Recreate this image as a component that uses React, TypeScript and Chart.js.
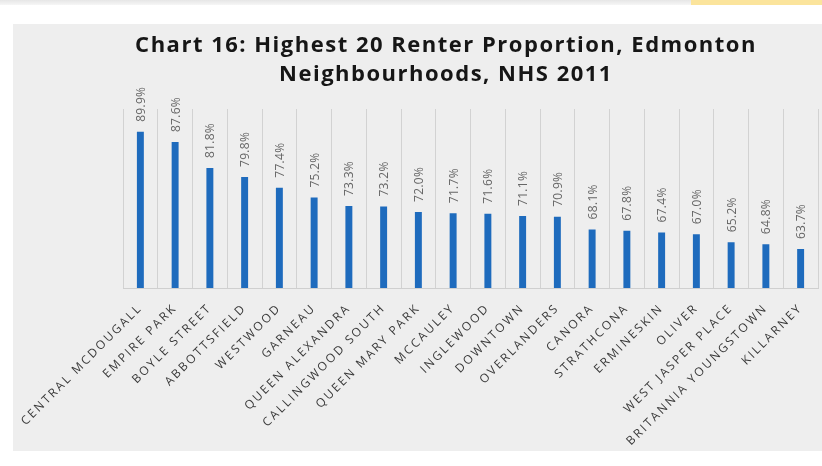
import React, { useEffect, useRef } from 'react';
import { Chart, registerables } from 'chart.js';

Chart.register(...registerables);

const neighbourhoods = [
  'CENTRAL MCDOUGALL',
  'EMPIRE PARK',
  'BOYLE STREET',
  'ABBOTTSFIELD',
  'WESTWOOD',
  'GARNEAU',
  'QUEEN ALEXANDRA',
  'CALLINGWOOD SOUTH',
  'QUEEN MARY PARK',
  'MCCAULEY',
  'INGLEWOOD',
  'DOWNTOWN',
  'OVERLANDERS',
  'CANORA',
  'STRATHCONA',
  'ERMINESKIN',
  'OLIVER',
  'WEST JASPER PLACE',
  'BRITANNIA YOUNGSTOWN',
  'KILLARNEY',
];

const renterShare = [
  89.9, 87.6, 81.8, 79.8, 77.4, 75.2, 73.3, 73.2, 72.0, 71.7,
  71.6, 71.1, 70.9, 68.1, 67.8, 67.4, 67.0, 65.2, 64.8, 63.7,
];

const titleLines = [
  'Chart 16: Highest 20 Renter Proportion, Edmonton',
  'Neighbourhoods, NHS 2011',
];

const yMin = 55;
const yMax = 95;

const FONT = '"Open Sans", "DejaVu Sans", sans-serif';

const spacingPlugin = {
  id: 'tickSpacing',
  beforeDraw(chart: any) {
    chart.ctx.letterSpacing = '2.2px';
  },
  beforeDatasetsDraw(chart: any) {
    chart.ctx.letterSpacing = '0px';
  },
};

const valueLabelPlugin = {
  id: 'valueLabels',
  afterDatasetsDraw(chart: any) {
    const ctx = chart.ctx;
    const meta = chart.getDatasetMeta(0);
    ctx.save();
    ctx.letterSpacing = '0.3px';
    ctx.font = `12px ${FONT}`;
    ctx.fillStyle = '#666666';
    ctx.textAlign = 'left';
    ctx.textBaseline = 'middle';
    meta.data.forEach((bar: any, i: number) => {
      ctx.save();
      ctx.translate(bar.x + 1, bar.y - 10);
      ctx.rotate(-Math.PI / 2);
      ctx.fillText(renterShare[i].toFixed(1) + '%', 0, 0);
      ctx.restore();
    });
    ctx.restore();
  },
};

const titlePlugin = {
  id: 'customTitle',
  afterDraw(chart: any) {
    const ctx = chart.ctx;
    ctx.save();
    ctx.letterSpacing = '1.5px';
    ctx.font = `bold 22px ${FONT}`;
    ctx.fillStyle = '#161616';
    ctx.textAlign = 'center';
    ctx.textBaseline = 'alphabetic';
    const cx = 433;
    titleLines.forEach((line, i) => {
      ctx.fillText(line, cx, 28 + i * 29);
    });
    ctx.restore();
  },
};

export default function App() {
  const canvasRef = useRef<HTMLCanvasElement | null>(null);

  useEffect(() => {
    if (!canvasRef.current) return;
    const chart = new Chart(canvasRef.current, {
      type: 'bar',
      data: {
        labels: neighbourhoods,
        datasets: [
          {
            data: renterShare,
            backgroundColor: '#1e6bbd',
            borderWidth: 0,
            barPercentage: 0.2,
            categoryPercentage: 1.0,
          },
        ],
      },
      options: {
        animation: false,
        responsive: true,
        maintainAspectRatio: false,
        layout: { padding: { left: 110, right: 4, top: 85, bottom: 0 } },
        plugins: {
          legend: { display: false },
          title: { display: false },
          tooltip: { enabled: false },
        },
        scales: {
          x: {
            grid: { offset: true, color: '#d2d2d2', drawTicks: false, lineWidth: 1 },
            border: { color: '#cfcfcf', width: 1 },
            ticks: {
              autoSkip: false,
              minRotation: 45,
              maxRotation: 45,
              padding: 13,
              color: '#3a3a3a',
              font: { family: FONT, size: 12 },
            },
            afterFit: (s: any) => {
              s.paddingLeft = 0;
              s.paddingRight = 0;
              s.height = 163;
            },
          },
          y: {
            display: false,
            min: yMin,
            max: yMax,
          },
        },
      },
      plugins: [spacingPlugin, valueLabelPlugin, titlePlugin],
    });
    return () => chart.destroy();
  }, []);

  return (
    <div
      style={{
        position: 'fixed',
        left: 0,
        top: 0,
        width: 822,
        height: 466,
        background: '#ffffff',
        overflow: 'hidden',
      }}
    >
      <div
        style={{
          position: 'absolute',
          left: 0,
          top: 0,
          width: 822,
          height: 5,
          background: 'linear-gradient(#e6e6e6, #f6f6f6)',
        }}
      />
      <div
        style={{
          position: 'absolute',
          left: 691,
          top: 0,
          width: 131,
          height: 5,
          background: '#fbe49c',
        }}
      />
      <div
        style={{
          position: 'absolute',
          left: 13,
          top: 24,
          width: 809,
          height: 427,
          background: '#eeeeee',
        }}
      >
        <canvas ref={canvasRef} style={{ display: 'block' }} />
      </div>
    </div>
  );
}
